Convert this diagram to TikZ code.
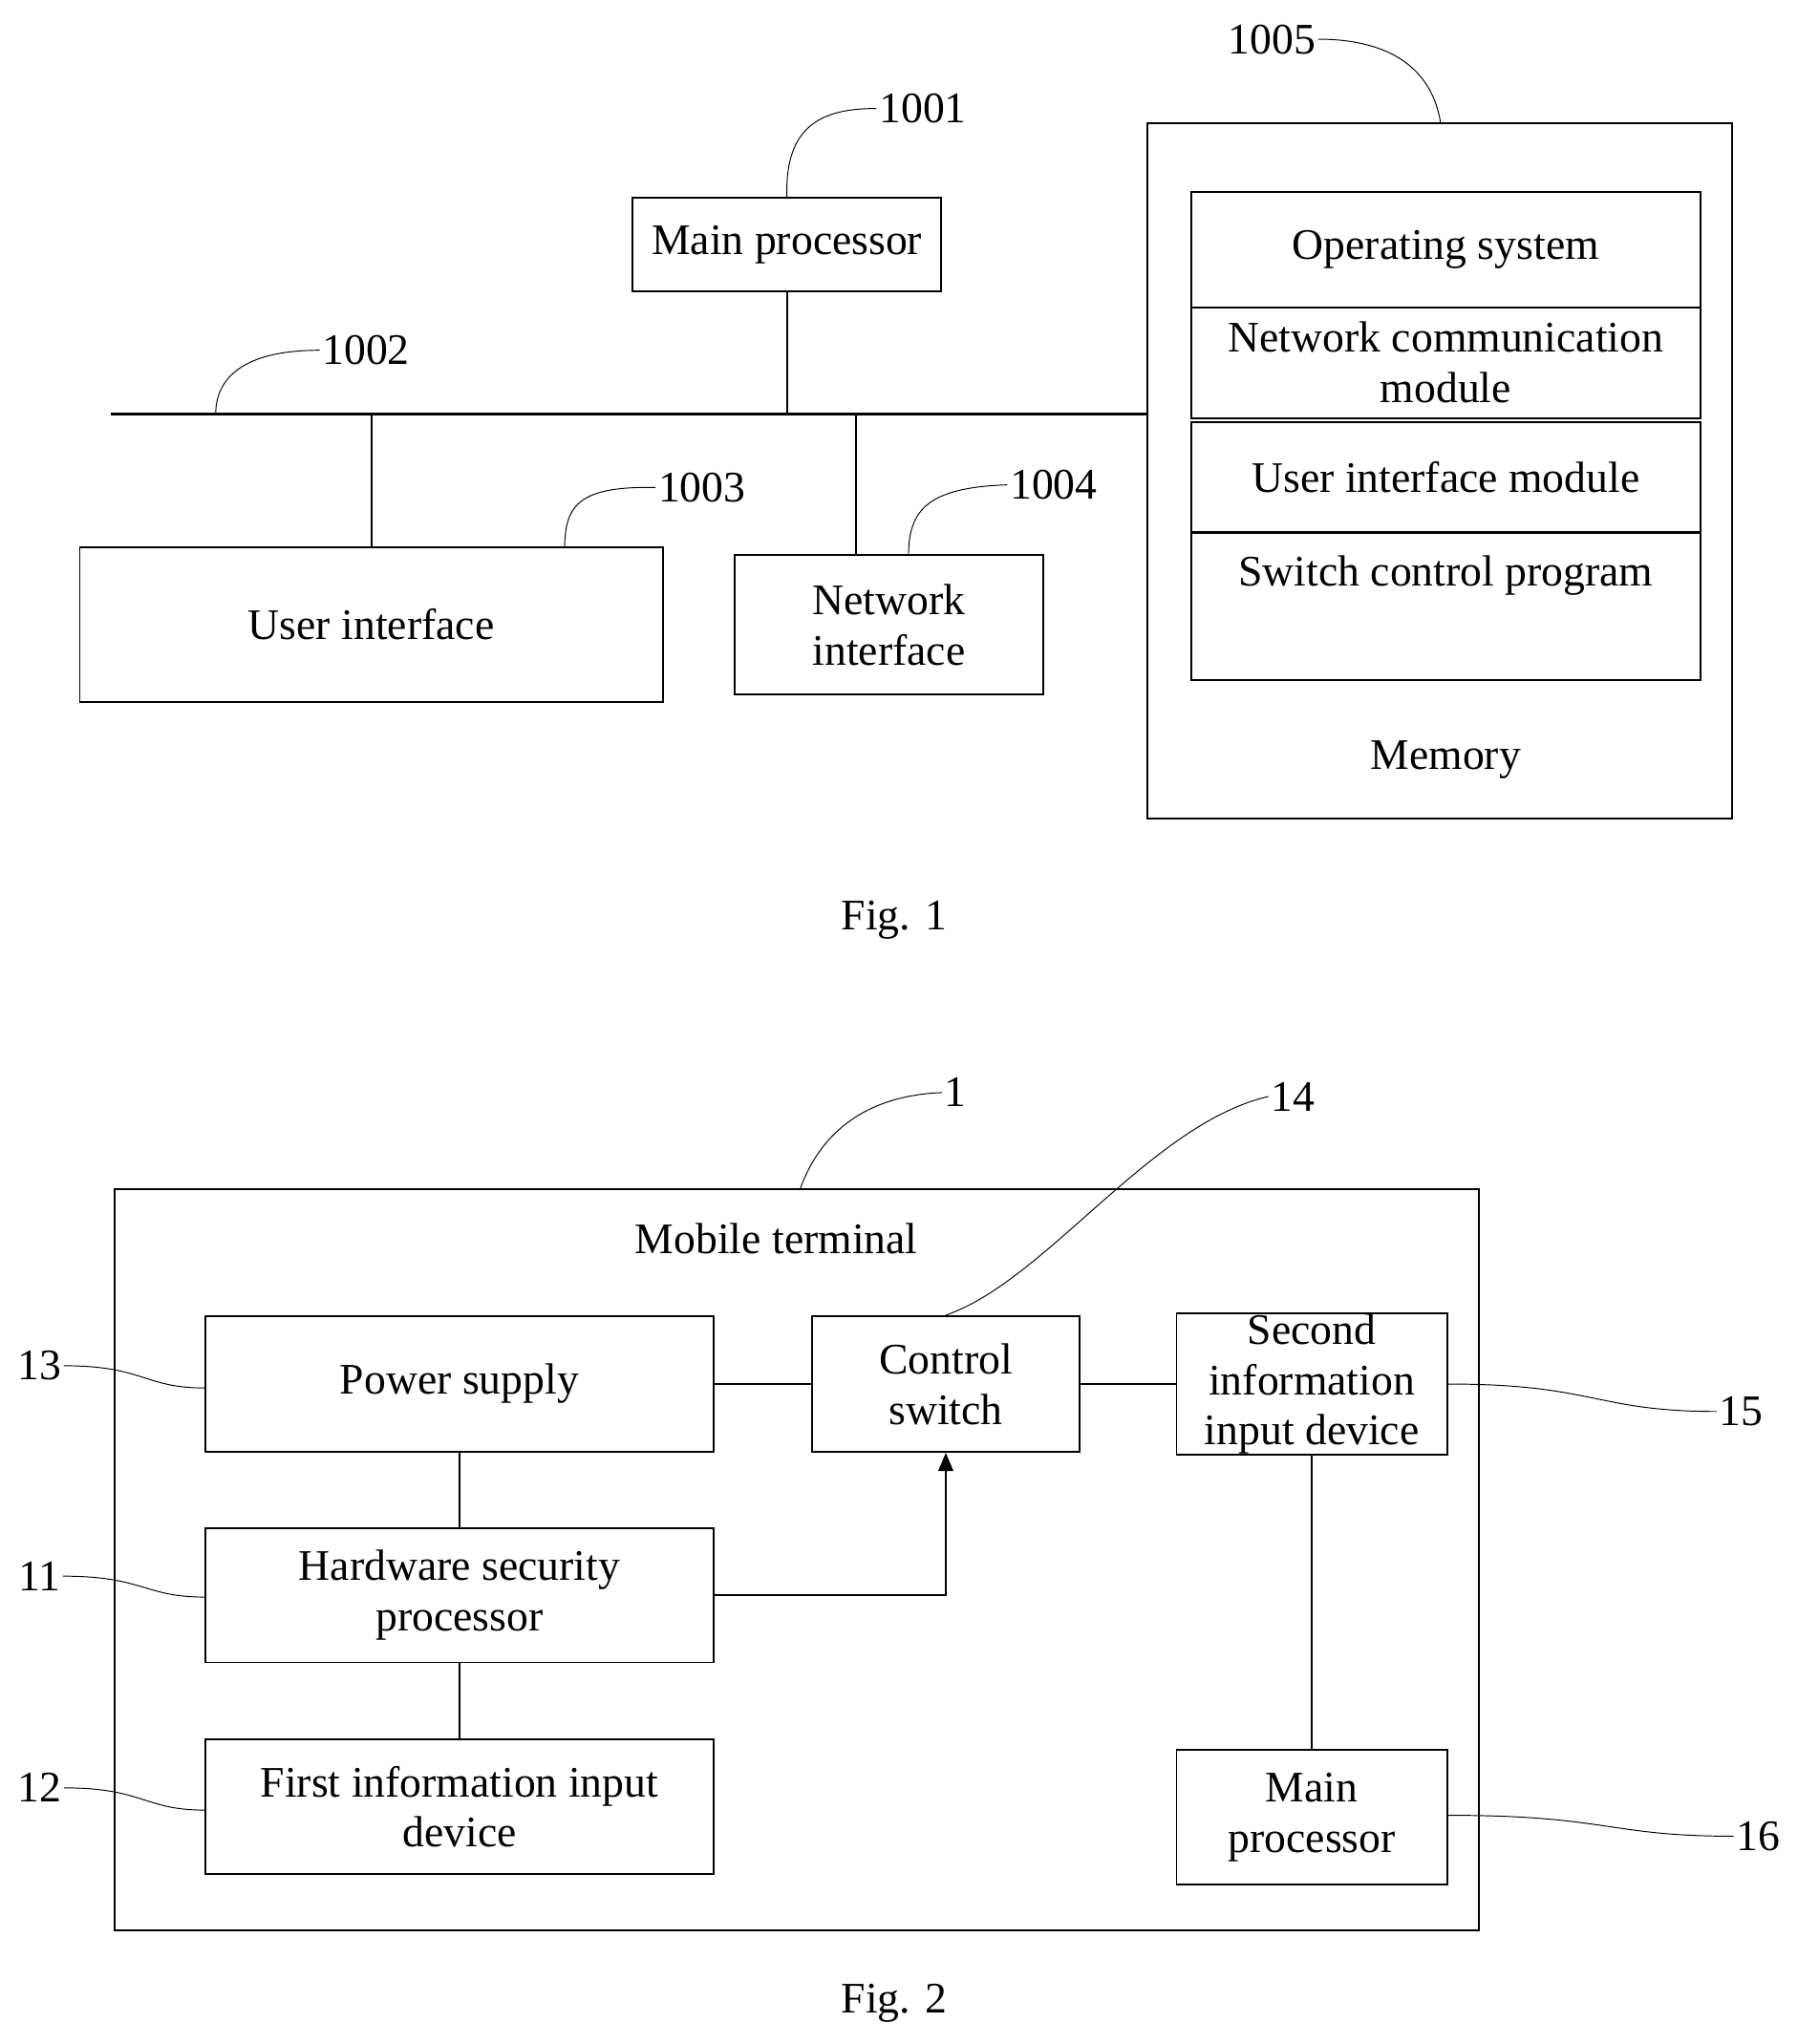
\documentclass[tikz,border=0pt]{standalone}
\usepackage{fontspec}
\setmainfont{Liberation Serif}
\usetikzlibrary{positioning,arrows}
\tikzstyle{blk}=[draw, thick, inner sep=0pt, align=center]
\tikzstyle{lead}=[thin]
\tikzstyle{num}=[inner sep=1pt]
\begin{document}
\begin{tikzpicture}[x=0.02cm,y=-0.02cm,>=triangle 45,font=\fontsize{19}{22}\selectfont]
\useasboundingbox (0,0) rectangle (1375,1564);
% Fig. 1
\node[blk, minimum width=4.72cm, minimum height=1.44cm] (mp) at (602,187) {Main processor};
\node[blk, minimum width=8.92cm, minimum height=2.38cm] (ui) at (284,478) {User interface};
\node[blk, minimum width=4.72cm, minimum height=2.14cm] (ni) at (680,478) {Network\\interface};
\draw[thick] (878,94) rectangle (1325,626);
\coordinate (mem) at (1102,94);
\node[blk, minimum width=7.8cm, minimum height=1.76cm] (os) at (1106,191) {Operating system};
\node[blk, minimum width=7.8cm, minimum height=1.7cm] (ncm) at (1106,277.5) {Network communication\\module};
\node[blk, minimum width=7.8cm, minimum height=1.68cm] (uim) at (1106,365) {User interface module};
\node[blk, minimum width=7.8cm, minimum height=2.26cm, anchor=north, text depth=1.1cm] (scp) at (1106,407) {Switch control program};
\node (memt) at (1106,581) {Memory};
\coordinate (busl) at (85,317);
\coordinate (busr) at (878,317);
\draw[very thick] (busl) -- (busr);
\draw[thick] (mp.south) -- (mp.south |- busr);
\draw[thick] (ui.north) -- (ui.north |- busr);
\draw[thick] (655,317) -- (ni.north -| 655,0);
\node[num] (n1001) at (706,83) {1001};
\node[num] (n1002) at (280,268) {1002};
\node[num] (n1003) at (537,373) {1003};
\node[num] (n1004) at (806,371) {1004};
\node[num] (n1005) at (973,30) {1005};
\draw[lead] (602,151) .. controls (600,95) and (630,83) .. (n1001.west);
\draw[lead] (165,317) .. controls (165,290) and (185,268) .. (n1002.west);
\draw[lead] (432,419) .. controls (432,385) and (445,372) .. (n1003.west);
\draw[lead] (695,425) .. controls (695,390) and (710,373) .. (n1004.west);
\draw[lead] (mem) .. controls (1095,50) and (1060,30) .. (n1005.east);
\node (fig1) at (684,704) {Fig. 1};
% Fig. 2
\draw[thick] (88,910) rectangle (1131,1477);
\coordinate (mt) at (612,910);
\node (mtt) at (594,948) {Mobile terminal};
\node[blk, minimum width=7.78cm, minimum height=2.08cm] (ps) at (351.5,1059) {Power supply};
\node[blk, minimum width=4.1cm, minimum height=2.08cm] (cs) at (723.5,1059) {Control\\switch};
\node[blk, minimum width=4.14cm, minimum height=2.08cm] (sid) at (1003.5,1059) {Second\\information\\input device};
\node[blk, minimum width=7.78cm, minimum height=2.06cm] (hsp) at (351.5,1220.5) {Hardware security\\processor};
\node[blk, minimum width=7.78cm, minimum height=2.06cm] (fid) at (351.5,1382.5) {First information input\\device};
\node[blk, minimum width=4.14cm, minimum height=2.06cm] (mp2) at (1003.5,1390.5) {Main\\processor};
\draw[thick] (ps) -- (cs);
\draw[thick] (cs) -- (sid);
\draw[thick] (ps) -- (hsp);
\draw[thick] (hsp) -- (fid);
\draw[thick] (sid) -- (mp2);
\draw[thick,->] (hsp.east) -| (cs.south);
\node[num] (n1) at (731,836) {1};
\node[num] (n14) at (989,839) {14};
\node[num] (n13) at (30,1045) {13};
\node[num] (n11) at (30,1206) {11};
\node[num] (n12) at (30,1368) {12};
\node[num] (n15) at (1332,1080) {15};
\node[num] (n16) at (1345,1405) {16};
\draw[lead] (mt) .. controls (630,860) and (670,838) .. (n1.west);
\draw[lead] (cs.north) .. controls (800,980) and (880,860) .. (n14.west);
\draw[lead] (n13.east) .. controls (110,1045) and (110,1062) .. (ps.west |- 0,1062);
\draw[lead] (n11.east) .. controls (110,1206) and (110,1222) .. (hsp.west |- 0,1222);
\draw[lead] (n12.east) .. controls (110,1368) and (110,1385) .. (fid.west |- 0,1385);
\draw[lead] (sid.east) .. controls (1220,1059) and (1220,1080) .. (n15.west);
\draw[lead] (mp2.east |- 0,1389) .. controls (1230,1389) and (1230,1405) .. (n16.west);
\node (fig2) at (684,1533) {Fig. 2};
\end{tikzpicture}
\end{document}
